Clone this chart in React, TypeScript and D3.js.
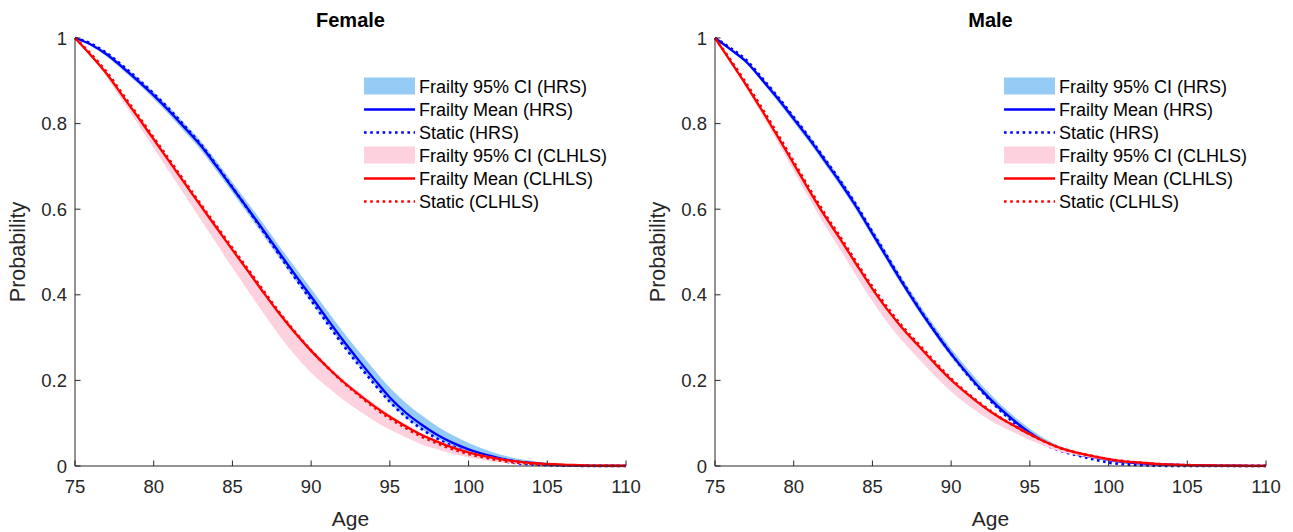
import React from "react";
import * as d3 from "d3";

const ages = [75,76,77,78,79,80,81,82,83,84,85,86,87,88,89,90,91,92,93,94,95,96,97,98,99,100,101,102,103,104,105,106,107,108,109,110];
const xTicks = [75,80,85,90,95,100,105,110];
const yTicks = [0,0.2,0.4,0.6,0.8,1];
const yTickLabels = ["0","0.2","0.4","0.6","0.8","1"];

const legendLabels = ["Frailty 95% CI (HRS)","Frailty Mean (HRS)","Static (HRS)","Frailty 95% CI (CLHLS)","Frailty Mean (CLHLS)","Static (CLHLS)"];

// Female
const fHrsMean = [1.000,0.985,0.962,0.932,0.900,0.866,0.829,0.789,0.748,0.700,0.650,0.600,0.549,0.497,0.446,0.396,0.345,0.295,0.248,0.203,0.160,0.125,0.097,0.073,0.054,0.039,0.027,0.018,0.011,0.007,0.004,0.002,0.001,0.0005,0.0002,0.0001];
const fHrsStatic = [1.000,0.987,0.965,0.936,0.904,0.870,0.833,0.793,0.751,0.702,0.651,0.599,0.546,0.492,0.439,0.387,0.335,0.284,0.237,0.192,0.150,0.115,0.087,0.064,0.046,0.032,0.021,0.013,0.007,0.004,0.002,0.001,0.0005,0.0002,0.0001,0.0000];
const fHrsLo = [1.000,0.982,0.957,0.926,0.893,0.858,0.820,0.779,0.738,0.689,0.639,0.588,0.537,0.485,0.434,0.384,0.333,0.283,0.236,0.191,0.148,0.114,0.087,0.064,0.046,0.032,0.022,0.014,0.008,0.005,0.003,0.001,0.001,0.0005,0.0002,0.0001];
const fHrsHi = [1.000,0.988,0.967,0.938,0.907,0.874,0.838,0.799,0.759,0.712,0.663,0.614,0.564,0.513,0.463,0.414,0.364,0.315,0.269,0.225,0.183,0.148,0.119,0.093,0.072,0.054,0.039,0.027,0.018,0.012,0.007,0.004,0.002,0.0015,0.0007,0.0004];
const fClMean = [1.000,0.960,0.917,0.866,0.815,0.763,0.711,0.659,0.607,0.556,0.505,0.455,0.404,0.355,0.310,0.269,0.232,0.198,0.168,0.140,0.115,0.093,0.073,0.057,0.043,0.032,0.023,0.016,0.011,0.007,0.005,0.003,0.002,0.001,0.0007,0.0005];
const fClStatic = [1.000,0.963,0.921,0.870,0.819,0.767,0.715,0.663,0.611,0.560,0.509,0.459,0.408,0.358,0.312,0.270,0.232,0.197,0.166,0.137,0.111,0.089,0.069,0.053,0.039,0.028,0.020,0.013,0.008,0.005,0.003,0.002,0.001,0.0005,0.0003,0.0002];
const fClLo = [1.000,0.956,0.909,0.854,0.799,0.743,0.687,0.631,0.575,0.519,0.463,0.409,0.355,0.304,0.258,0.218,0.186,0.156,0.130,0.106,0.085,0.067,0.051,0.039,0.028,0.020,0.014,0.009,0.006,0.004,0.003,0.002,0.001,0.0005,0.0003,0.0002];
const fClHi = [1.000,0.962,0.921,0.871,0.821,0.769,0.717,0.665,0.613,0.562,0.511,0.461,0.410,0.361,0.316,0.275,0.238,0.204,0.174,0.146,0.120,0.098,0.077,0.061,0.046,0.035,0.025,0.018,0.012,0.008,0.006,0.004,0.003,0.002,0.001,0.001];

// Male
const mHrsMean = [1.000,0.973,0.944,0.902,0.858,0.811,0.763,0.712,0.660,0.604,0.543,0.482,0.422,0.365,0.312,0.262,0.217,0.175,0.138,0.106,0.078,0.055,0.038,0.028,0.020,0.014,0.009,0.006,0.004,0.003,0.002,0.0015,0.001,0.0006,0.0004,0.0002];
const mHrsStatic = [1.000,0.976,0.948,0.906,0.862,0.815,0.767,0.716,0.664,0.608,0.547,0.486,0.425,0.367,0.313,0.262,0.215,0.172,0.134,0.101,0.073,0.050,0.035,0.025,0.016,0.008,0.004,0.002,0.0008,0.0003,0.0001,0,0,0,0,0];
const mHrsLo = [1.000,0.970,0.939,0.896,0.851,0.803,0.755,0.704,0.652,0.596,0.535,0.474,0.414,0.357,0.304,0.254,0.209,0.168,0.131,0.100,0.073,0.051,0.035,0.025,0.018,0.012,0.008,0.005,0.003,0.002,0.0015,0.001,0.0007,0.0004,0.0002,0.0001];
const mHrsHi = [1.000,0.976,0.949,0.908,0.865,0.819,0.772,0.721,0.670,0.614,0.553,0.493,0.433,0.377,0.324,0.274,0.229,0.187,0.149,0.116,0.087,0.063,0.045,0.033,0.024,0.017,0.011,0.008,0.005,0.004,0.003,0.002,0.0013,0.0008,0.0005,0.0003];
const mClMean = [1.000,0.945,0.889,0.830,0.769,0.706,0.643,0.583,0.528,0.470,0.414,0.363,0.318,0.278,0.238,0.201,0.169,0.140,0.115,0.094,0.074,0.056,0.041,0.031,0.023,0.016,0.011,0.008,0.005,0.003,0.002,0.0015,0.001,0.0007,0.0005,0.0003];
const mClStatic = [1.000,0.948,0.893,0.835,0.774,0.711,0.648,0.588,0.533,0.475,0.419,0.368,0.322,0.282,0.242,0.204,0.171,0.142,0.116,0.094,0.074,0.056,0.041,0.031,0.023,0.016,0.011,0.008,0.005,0.003,0.002,0.0012,0.0008,0.0005,0.0003,0.0002];
const mClLo = [1.000,0.941,0.882,0.820,0.756,0.690,0.624,0.561,0.503,0.443,0.385,0.333,0.288,0.248,0.209,0.174,0.144,0.118,0.096,0.078,0.061,0.046,0.033,0.025,0.018,0.012,0.008,0.006,0.0035,0.002,0.0012,0.0009,0.0006,0.0004,0.0003,0.0002];
const mClHi = [1.000,0.948,0.893,0.834,0.773,0.710,0.647,0.587,0.532,0.474,0.418,0.367,0.322,0.282,0.242,0.205,0.173,0.144,0.118,0.097,0.077,0.058,0.043,0.033,0.024,0.017,0.012,0.009,0.006,0.004,0.003,0.002,0.0015,0.001,0.0008,0.0005];

const BLUE = "#0000ff";
const RED = "#ff0000";
const BLUE_BAND = "#96cbf6";
const PINK_BAND = "#fdd1de";
const AXIS = "#262626";
const FONT = "'Liberation Sans', Arial, Helvetica, sans-serif";

type Panel = {
  title: string; left: number;
  hMean: number[]; hStatic: number[]; hLo: number[]; hHi: number[];
  cMean: number[]; cStatic: number[]; cLo: number[]; cHi: number[];
};

const panels: Panel[] = [
  { title: "Female", left: 75, hMean: fHrsMean, hStatic: fHrsStatic, hLo: fHrsLo, hHi: fHrsHi, cMean: fClMean, cStatic: fClStatic, cLo: fClLo, cHi: fClHi },
  { title: "Male", left: 715, hMean: mHrsMean, hStatic: mHrsStatic, hLo: mHrsLo, hHi: mHrsHi, cMean: mClMean, cStatic: mClStatic, cLo: mClLo, cHi: mClHi },
];

const PW = 551, TOP = 38, BOTTOM = 466;
const DOT = "2.6,3.6";
const LW = 2.3;

function PanelView({ p }: { p: Panel }) {
  const x = d3.scaleLinear().domain([75, 110]).range([p.left, p.left + PW]);
  const y = d3.scaleLinear().domain([0, 1]).range([BOTTOM, TOP]);
  const line = (vals: number[]) =>
    d3.line<number>().x((_, i) => x(ages[i])).y((v) => y(v)).curve(d3.curveMonotoneX)(vals) || "";
  const area = (lo: number[], hi: number[]) =>
    d3.area<number>().x((_, i) => x(ages[i])).y0((_, i) => y(lo[i])).y1((_, i) => y(hi[i])).curve(d3.curveMonotoneX)(ages) || "";
  const cx = p.left + PW / 2;
  const lx = p.left + 289;
  const ly = 86.5;
  const dy = 23;
  const legendItems = [
    { type: "patch", color: BLUE_BAND },
    { type: "line", color: BLUE },
    { type: "dot", color: BLUE },
    { type: "patch", color: PINK_BAND },
    { type: "line", color: RED },
    { type: "dot", color: RED },
  ];
  return (
    <g>
      <path d={area(p.hLo, p.hHi)} fill={BLUE_BAND} stroke="none" />
      <path d={line(p.hMean)} fill="none" stroke={BLUE} strokeWidth={LW} />
      <path d={line(p.hStatic)} fill="none" stroke={BLUE} strokeWidth={2.7} strokeDasharray={DOT} />
      <path d={area(p.cLo, p.cHi)} fill={PINK_BAND} stroke="none" />
      <path d={line(p.cMean)} fill="none" stroke={RED} strokeWidth={LW} />
      <path d={line(p.cStatic)} fill="none" stroke={RED} strokeWidth={2.7} strokeDasharray={DOT} />

      {/* axes */}
      <line x1={p.left} x2={p.left + PW} y1={BOTTOM} y2={BOTTOM} stroke={AXIS} strokeWidth={1} />
      <line x1={p.left} x2={p.left} y1={TOP} y2={BOTTOM} stroke={AXIS} strokeWidth={1} />
      {xTicks.map((t) => (
        <g key={"x" + t}>
          <line x1={x(t)} x2={x(t)} y1={BOTTOM} y2={BOTTOM - 5.5} stroke={AXIS} strokeWidth={1} />
          <text x={x(t)} y={493} textAnchor="middle" fontSize={18.5} fill={AXIS} fontFamily={FONT}>{t}</text>
        </g>
      ))}
      {yTicks.map((t, i) => (
        <g key={"y" + t}>
          <line x1={p.left} x2={p.left + 5.5} y1={y(t)} y2={y(t)} stroke={AXIS} strokeWidth={1} />
          <text x={p.left - 8} y={y(t) + 6.5} textAnchor="end" fontSize={18.5} fill={AXIS} fontFamily={FONT}>{yTickLabels[i]}</text>
        </g>
      ))}
      <text x={cx} y={526} textAnchor="middle" fontSize={21} fill={AXIS} fontFamily={FONT}>Age</text>
      <text transform={`translate(${p.left - 50},${(TOP + BOTTOM) / 2}) rotate(-90)`} textAnchor="middle" fontSize={21.5} fill={AXIS} fontFamily={FONT}>Probability</text>
      <text x={cx} y={27} textAnchor="middle" fontSize={20} fontWeight="bold" fill="#000" fontFamily={FONT}>{p.title}</text>

      {/* legend */}
      {legendItems.map((it, i) => {
        const yy = ly + i * dy;
        return (
          <g key={"l" + i}>
            {it.type === "patch" && <rect x={lx} y={yy - 9} width={51} height={17} fill={it.color} />}
            {it.type === "line" && <line x1={lx} x2={lx + 51} y1={yy} y2={yy} stroke={it.color} strokeWidth={LW} />}
            {it.type === "dot" && <line x1={lx} x2={lx + 51} y1={yy} y2={yy} stroke={it.color} strokeWidth={2.7} strokeDasharray={DOT} />}
            <text x={lx + 55} y={yy + 6.5} fontSize={18} fill="#000" fontFamily={FONT}>{legendLabels[i]}</text>
          </g>
        );
      })}
    </g>
  );
}

export default function App() {
  return (
    <svg width={1293} height={532} style={{ position: "absolute", left: 0, top: 0, background: "#fff" }}>
      <rect width={1293} height={532} fill="#fff" />
      {panels.map((p) => <PanelView key={p.title} p={p} />)}
    </svg>
  );
}
